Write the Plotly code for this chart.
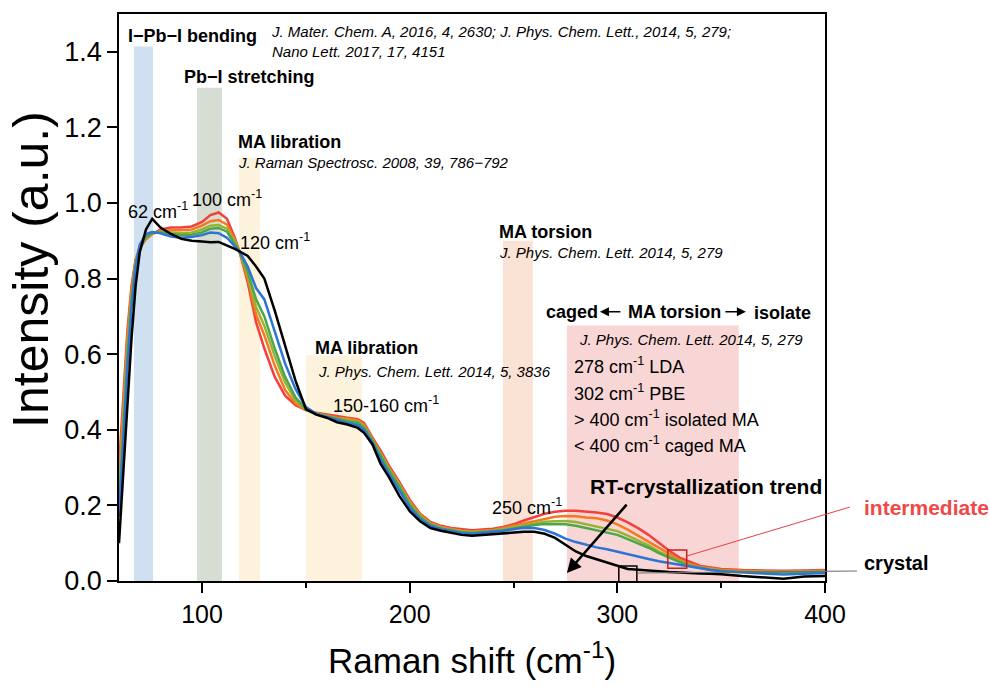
import plotly.graph_objects as go

# Raman shift grid (cm-1)
shift = [60, 62, 64, 66, 68, 70, 73, 76, 80, 85, 90, 95, 100, 104, 108, 112, 116, 118,
         122, 126, 130, 135, 140, 145, 150, 155, 160, 165, 170, 175, 178, 182, 186, 190,
         195, 200, 205, 210, 215, 220, 225, 230, 235, 240, 245, 250, 255, 260, 265, 270,
         275, 280, 285, 290, 295, 300, 305, 310, 315, 320, 325, 330, 335, 340, 345, 350,
         360, 370, 380, 390, 400]

# Normalised intensities, from intermediate (red) to crystal (black)
int_red = [0.30, 0.48, 0.66, 0.78, 0.85, 0.88, 0.905, 0.918, 0.930, 0.935, 0.935, 0.938, 0.950, 0.968, 0.975, 0.958, 0.905, 0.872,
           0.790, 0.685, 0.615, 0.540, 0.490, 0.465, 0.452, 0.445, 0.440, 0.435, 0.432, 0.428, 0.418, 0.380, 0.345, 0.305,
           0.262, 0.215, 0.178, 0.156, 0.146, 0.140, 0.136, 0.134, 0.136, 0.138, 0.143, 0.150, 0.160, 0.170, 0.178, 0.183,
           0.186, 0.186, 0.184, 0.181, 0.177, 0.168, 0.155, 0.140, 0.122, 0.100, 0.080, 0.062, 0.050, 0.040, 0.036, 0.032,
           0.029, 0.028, 0.027, 0.028, 0.029]
int_orange = [0.27, 0.45, 0.64, 0.77, 0.85, 0.885, 0.905, 0.918, 0.926, 0.928, 0.928, 0.930, 0.940, 0.952, 0.955, 0.943, 0.900, 0.872,
              0.800, 0.705, 0.650, 0.570, 0.505, 0.470, 0.452, 0.444, 0.438, 0.432, 0.430, 0.425, 0.414, 0.377, 0.340, 0.300,
              0.258, 0.210, 0.175, 0.153, 0.143, 0.137, 0.133, 0.131, 0.133, 0.135, 0.140, 0.146, 0.154, 0.160, 0.166, 0.170,
              0.172, 0.171, 0.168, 0.166, 0.160, 0.150, 0.136, 0.120, 0.104, 0.086, 0.070, 0.056, 0.045, 0.037, 0.033, 0.030,
              0.027, 0.026, 0.025, 0.026, 0.027]
int_olive = [0.22, 0.42, 0.61, 0.75, 0.84, 0.885, 0.908, 0.920, 0.924, 0.922, 0.920, 0.922, 0.930, 0.940, 0.942, 0.932, 0.895, 0.872,
             0.810, 0.725, 0.675, 0.595, 0.525, 0.478, 0.453, 0.443, 0.436, 0.430, 0.426, 0.421, 0.410, 0.374, 0.336, 0.296,
             0.254, 0.206, 0.172, 0.151, 0.141, 0.135, 0.131, 0.129, 0.131, 0.133, 0.137, 0.142, 0.148, 0.153, 0.157, 0.158,
             0.159, 0.156, 0.150, 0.144, 0.140, 0.132, 0.120, 0.108, 0.094, 0.078, 0.064, 0.052, 0.042, 0.035, 0.031, 0.028,
             0.025, 0.024, 0.024, 0.025, 0.025]
int_green = [0.20, 0.40, 0.59, 0.74, 0.84, 0.885, 0.910, 0.921, 0.922, 0.918, 0.915, 0.916, 0.922, 0.932, 0.934, 0.924, 0.890, 0.872,
             0.818, 0.745, 0.700, 0.615, 0.540, 0.486, 0.454, 0.442, 0.435, 0.428, 0.423, 0.418, 0.406, 0.371, 0.332, 0.292,
             0.250, 0.202, 0.169, 0.149, 0.139, 0.133, 0.129, 0.127, 0.129, 0.131, 0.134, 0.139, 0.144, 0.148, 0.151, 0.151,
             0.150, 0.146, 0.140, 0.134, 0.129, 0.122, 0.111, 0.100, 0.088, 0.074, 0.061, 0.050, 0.040, 0.034, 0.030, 0.027,
             0.024, 0.023, 0.023, 0.024, 0.024]
int_blue = [0.17, 0.37, 0.56, 0.72, 0.83, 0.89, 0.918, 0.923, 0.920, 0.911, 0.908, 0.910, 0.915, 0.922, 0.920, 0.908, 0.884, 0.872,
            0.832, 0.775, 0.745, 0.660, 0.575, 0.508, 0.460, 0.442, 0.434, 0.425, 0.418, 0.412, 0.400, 0.366, 0.322, 0.284,
            0.240, 0.195, 0.164, 0.146, 0.137, 0.131, 0.127, 0.125, 0.127, 0.129, 0.133, 0.137, 0.141, 0.140, 0.135, 0.125,
            0.112, 0.103, 0.095, 0.089, 0.084, 0.077, 0.070, 0.064, 0.058, 0.052, 0.047, 0.042, 0.038, 0.032, 0.029, 0.026,
            0.022, 0.020, 0.017, 0.020, 0.021]
int_black = [0.10, 0.28, 0.46, 0.64, 0.78, 0.87, 0.93, 0.958, 0.935, 0.918, 0.905, 0.900, 0.898, 0.896, 0.897, 0.888, 0.878, 0.872,
             0.860, 0.832, 0.800, 0.715, 0.620, 0.530, 0.455, 0.440, 0.432, 0.420, 0.414, 0.405, 0.392, 0.362, 0.310, 0.275,
             0.225, 0.185, 0.158, 0.140, 0.133, 0.127, 0.122, 0.120, 0.122, 0.124, 0.126, 0.127, 0.130, 0.130, 0.125, 0.114,
             0.095, 0.078, 0.066, 0.058, 0.048, 0.040, 0.032, 0.030, 0.027, 0.026, 0.024, 0.022, 0.021, 0.020, 0.019, 0.018,
             0.013, 0.010, 0.006, 0.012, 0.013]

series = [int_red, int_orange, int_olive, int_green, int_blue, int_black]
series_colors = ["#f2403c", "#f57a1e", "#98b236", "#4aa84a", "#2f74d4", "#000000"]

# Vibrational mode bands: (start, end, top, colour)
band_start = [67.2, 97.6, 117.8, 150.0, 244.9, 275.7]
band_end = [76.4, 109.6, 127.9, 177.0, 259.3, 358.5]
band_top = [1.414, 1.305, 1.12, 0.597, 0.90, 0.676]
band_colors = ["#cfe1f1", "#d6ddd3", "#fdf3dd", "#fdf3dd", "#fae3d5", "#f8d6d6"]

x_ticks = [100, 200, 300, 400]
y_ticks = [0.0, 0.2, 0.4, 0.6, 0.8, 1.0, 1.2, 1.4]

FONT = "Liberation Sans, Arial"

fig = go.Figure()

for ys, col in zip(series, series_colors):
    fig.add_trace(go.Scatter(x=shift, y=ys, mode="lines",
                             line=dict(color=col, width=2.5), showlegend=False))

for x0, x1, top, col in zip(band_start, band_end, band_top, band_colors):
    fig.add_shape(type="rect", xref="x", yref="y", x0=x0, x1=x1, y0=0, y1=top,
                  fillcolor=col, line_width=0, layer="below")

# highlighted spectral windows
fig.add_shape(type="rect", xref="x", yref="y", x0=324.3, x1=333.4, y0=0.034, y1=0.082,
              line=dict(color="#c81e1e", width=1.5), fillcolor="rgba(0,0,0,0)")
fig.add_shape(type="rect", xref="x", yref="y", x0=300.7, x1=309.4, y0=-0.005, y1=0.040,
              line=dict(color="#000000", width=1.5), fillcolor="rgba(0,0,0,0)")
fig.add_shape(type="line", xref="paper", yref="paper", x0=0.8045, y0=0.0441, x1=1.0354, y1=0.1305,
              line=dict(color="#e84040", width=1))
fig.add_shape(type="line", xref="paper", yref="paper", x0=0.7337, y0=0.0141, x1=1.0453, y1=0.0176,
              line=dict(color="#707070", width=1.2))


def label(x, y, text, size=17, bold=False, italic=False, color="#000000", ref="data"):
    if bold:
        text = "<b>" + text + "</b>"
    if italic:
        text = "<i>" + text + "</i>"
    xr, yr = ("x", "y") if ref == "data" else ("paper", "paper")
    fig.add_annotation(x=x, y=y, xref=xr, yref=yr, text=text, showarrow=False,
                       xanchor="left", yanchor="middle", align="left",
                       font=dict(family=FONT, size=size, color=color))


CM = "cm<sup>-1</sup>"
label(63.4, 1.442, "I−Pb−I bending", size=18, bold=True)
label(132.2, 1.427, "J. Mater. Chem. A, 2016, 4, 2630; J. Phys. Chem. Lett., 2014, 5, 279;<br>Nano Lett. 2017, 17, 4151",
      size=15, italic=True)
label(90.3, 1.333, "Pb−I stretching", size=18, bold=True)
label(116.3, 1.161, "MA libration", size=18, bold=True)
label(116.3, 1.106, "J. Raman Spectrosc. 2008, 39, 786−792", size=15, italic=True)
label(63.4, 0.981, "62 " + CM, size=18)
label(94.2, 1.011, "100 " + CM, size=18)
label(117.3, 0.899, "120 " + CM, size=18)
label(242.0, 0.923, "MA torsion", size=18, bold=True)
label(242.0, 0.870, "J. Phys. Chem. Lett. 2014, 5, 279", size=15, italic=True)
label(264.7, 0.712, "caged", size=18, bold=True)
label(304.2, 0.712, "MA torsion", size=18, bold=True)
label(364.8, 0.708, "isolate", size=18, bold=True)
label(153.4, 0.616, "MA libration", size=18, bold=True)
label(154.9, 0.553, "J. Phys. Chem. Lett. 2014, 5, 3836", size=15, italic=True)
label(162.1, 0.468, "150-160 " + CM, size=18)
label(280.6, 0.640, "J. Phys. Chem. Lett. 2014, 5, 279", size=15, italic=True)
label(278.2, 0.569, "278 " + CM + " LDA", size=18)
label(278.2, 0.500, "302 " + CM + " PBE", size=18)
label(278.2, 0.429, "> 400 " + CM + " isolated MA", size=18)
label(278.2, 0.360, "< 400 " + CM + " caged MA", size=18)
label(238.7, 0.196, "250 " + CM, size=18)
label(285.9, 0.251, "RT-crystallization trend", size=21, bold=True)
# state labels sit to the right of the frame
label(1.0524, 0.129, "intermediate", size=21, bold=True, color="#f04848", ref="paper")
label(1.0524, 0.0317, "crystal", size=20, bold=True, ref="paper")

# caged / isolate direction arrows
fig.add_annotation(x=291.6, y=0.712, xref="x", yref="y", ax=22, ay=0, text="",
                   showarrow=True, arrowhead=2, arrowsize=1.2, arrowwidth=1.5, arrowcolor="#000000")
fig.add_annotation(x=361.9, y=0.712, xref="x", yref="y", ax=-22, ay=0, text="",
                   showarrow=True, arrowhead=2, arrowsize=1.2, arrowwidth=1.5, arrowcolor="#000000")
# crystallization trend arrow
fig.add_annotation(x=275.7, y=0.021, xref="x", yref="y", ax=305.1, ay=0.206, axref="x", ayref="y",
                   text="", showarrow=True, arrowhead=2, arrowsize=1.1, arrowwidth=2.6, arrowcolor="#000000")

# axis titles
fig.add_annotation(x=0.5, y=-0.135, xref="paper", yref="paper", text="Raman shift (cm<sup>-1</sup>)",
                   showarrow=False, xanchor="center", yanchor="middle",
                   font=dict(family=FONT, size=35, color="#000000"))
fig.add_annotation(x=-0.125, y=0.55, xref="paper", yref="paper", text="Intensity (a.u.)",
                   showarrow=False, xanchor="center", yanchor="middle", textangle=-90,
                   font=dict(family=FONT, size=50, color="#000000"))

fig.update_xaxes(range=[60, 400], tickvals=x_ticks, ticks="outside", ticklen=10, tickwidth=1.5,
                 tickcolor="#000000", showline=True, linecolor="#000000", linewidth=1.6, mirror=True,
                 showgrid=False, zeroline=False,
                 minor=dict(tickvals=[150, 250, 350], ticks="outside", ticklen=5, tickwidth=1.5,
                            tickcolor="#000000", showgrid=False),
                 tickfont=dict(family=FONT, size=25, color="#000000"))
fig.update_yaxes(range=[0, 1.5], tickvals=y_ticks, tickformat=".1f", ticks="outside", ticklen=10,
                 tickwidth=1.5, tickcolor="#000000", showline=True, linecolor="#000000", linewidth=1.6,
                 mirror=True, showgrid=False, zeroline=False,
                 tickfont=dict(family=FONT, size=27, color="#000000"))

fig.update_layout(width=989, height=696, margin=dict(l=119, r=164, t=14, b=115),
                  paper_bgcolor="#ffffff", plot_bgcolor="#ffffff")

fig.write_html("out.html")
